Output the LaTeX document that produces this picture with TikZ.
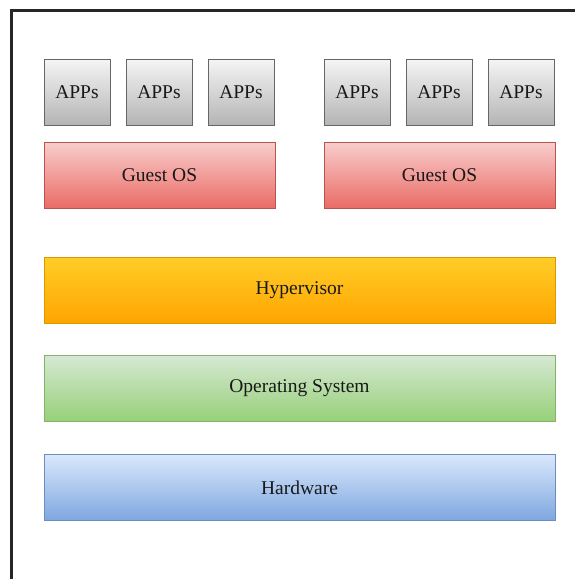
\documentclass[tikz,border=0pt]{standalone}
\usepackage{fontspec}
\setmainfont{Liberation Serif}
\definecolor{appF}{HTML}{F5F5F5}\definecolor{appG}{HTML}{B3B3B3}\definecolor{appS}{HTML}{666666}
\definecolor{gosF}{HTML}{F8CECC}\definecolor{gosG}{HTML}{EA6B66}\definecolor{gosS}{HTML}{B85450}
\definecolor{hypF}{HTML}{FFCD28}\definecolor{hypG}{HTML}{FFA500}\definecolor{hypS}{HTML}{D79B00}
\definecolor{osF}{HTML}{D5E8D4}\definecolor{osG}{HTML}{97D077}\definecolor{osS}{HTML}{82B366}
\definecolor{hwF}{HTML}{DAE8FC}\definecolor{hwG}{HTML}{7EA6E0}\definecolor{hwS}{HTML}{6C8EBF}
\tikzset{
  layer/.style={draw, line width=1pt, inner sep=0pt, outer sep=0pt, anchor=north west,
    font=\fontsize{19.5}{22}\selectfont, text=black!90},
  appbox/.style={layer, minimum width=66pt, minimum height=66pt, top color=appF, bottom color=appG, draw=appS},
  gosbox/.style={layer, minimum width=231pt, minimum height=66pt, top color=gosF, bottom color=gosG, draw=gosS},
  widebox/.style={layer, minimum width=511pt, minimum height=66pt},
}
\begin{document}
\begin{tikzpicture}[x=1pt,y=-1pt]
\useasboundingbox (0,0) rectangle (574,579);
\fill[white] (0,0) rectangle (574,579);
\draw[line width=2.6pt, black!85] (11.5,585) -- (11.5,10.5) -- (580,10.5);
% APPs
\node[appbox] (a1) at (44,59.5) {APPs};
\node[appbox] (a2) at (126,59.5) {APPs};
\node[appbox] (a3) at (208,59.5) {APPs};
\node[appbox] (a4) at (324,59.5) {APPs};
\node[appbox] (a5) at (406,59.5) {APPs};
\node[appbox] (a6) at (488,59.5) {APPs};
% Guest OS
\node[gosbox] (g1) at (44,142) {Guest OS};
\node[gosbox] (g2) at (324,142) {Guest OS};
% layers
\node[widebox, top color=hypF, bottom color=hypG, draw=hypS] (hyp) at (44,257) {Hypervisor};
\node[widebox, top color=osF, bottom color=osG, draw=osS] (os) at (44,355.5) {Operating System};
\node[widebox, top color=hwF, bottom color=hwG, draw=hwS] (hw) at (44,454.5) {Hardware};
\end{tikzpicture}
\end{document}
